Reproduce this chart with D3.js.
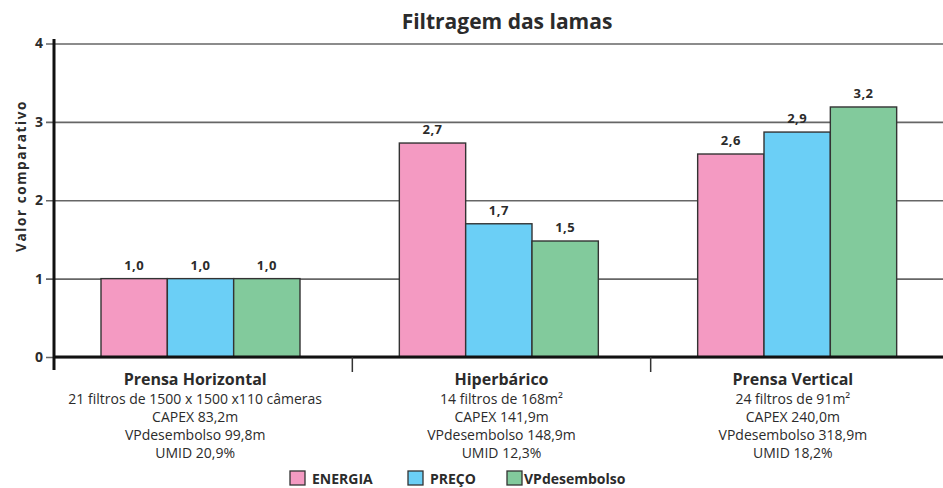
<!DOCTYPE html>
<head>
<meta charset="utf-8">
<title>Filtragem das lamas</title>
</head>
<style>
body { margin: 0; background: #fff; }
text { font-family: "Open Sans", Lato, sans-serif; fill: #2b2b2b; }
.grid line { stroke: #666; stroke-width: 1.6px; }
.bars rect { stroke: #333; stroke-width: 1.4px; }
</style>
<svg id="svg" width="943" height="488"></svg>
<script src="https://cdn.jsdelivr.net/npm/d3@7"></script>
<script>

// data
var categories = ["Prensa Horizontal", "Hiperbárico", "Prensa Vertical"];
var details = [
  ["21 filtros de 1500 x 1500 x110 câmeras", "CAPEX 83,2m", "VPdesembolso 99,8m", "UMID 20,9%"],
  ["14 filtros de 168m²", "CAPEX 141,9m", "VPdesembolso 148,9m", "UMID 12,3%"],
  ["24 filtros de 91m²", "CAPEX 240,0m", "VPdesembolso 318,9m", "UMID 18,2%"]
];
var series = ["ENERGIA", "PREÇO", "VPdesembolso"];
var energia = [1.0, 2.73, 2.59];
var preco = [1.0, 1.7, 2.87];
var vpdesembolso = [1.0, 1.48, 3.19];
var yTicks = [0, 1, 2, 3, 4];
var colors = ["#f49ac2", "#6bcff6", "#82ca9c"];

var values = [energia, preco, vpdesembolso];
var labelNudge = [-8, 0, -7];

var svg = d3.select("svg");

var x0 = d3.scaleBand().domain(categories).range([54, 949]);
var x1 = d3.scaleBand().domain(series).range([47, 246]);
var y = d3.scaleLinear().domain([0, 4]).range([357, 43.5]);
var color = d3.scaleOrdinal().domain(series).range(colors);
var fmt = function(v) { return d3.format(".1f")(v).replace(".", ","); };

// title
svg.append("text")
    .attr("x", 507).attr("y", 29)
    .attr("text-anchor", "middle")
    .style("font-size", "21px").style("font-weight", "bold")
    .text("Filtragem das lamas");

// y axis title
svg.append("text")
    .attr("transform", "translate(26,176) rotate(-90)")
    .attr("text-anchor", "middle")
    .style("font-size", "13.5px").style("font-weight", "bold")
    .style("letter-spacing", "1.6px")
    .text("Valor comparativo");

// gridlines + ticks
var yAxis = d3.axisLeft(y).tickValues(yTicks).tickSize(8).tickFormat(d3.format("d"));
var ga = svg.append("g").attr("class", "grid")
    .attr("transform", "translate(54,0)")
    .call(yAxis);
ga.select(".domain").remove();
ga.selectAll(".tick line").attr("x2", 943 - 54).attr("x1", -8);
ga.selectAll(".tick text")
    .attr("x", -11)
    .style("font-size", "14px").style("font-weight", "bold")
    .style("font-family", "'Open Sans', sans-serif").attr("fill", "#2b2b2b");

// bars
var rows = [];
categories.forEach(function(c, i) {
  series.forEach(function(s, j) {
    rows.push({cat: c, ser: s, v: values[j][i]});
  });
});

var bars = svg.append("g").attr("class", "bars");
bars.selectAll("rect")
  .data(rows)
  .enter().append("rect")
    .attr("x", function(d) { return x0(d.cat) + x1(d.ser); })
    .attr("y", function(d) { return y(d.v); })
    .attr("width", x1.bandwidth())
    .attr("height", function(d) { return y(0) - y(d.v); })
    .attr("fill", function(d) { return color(d.ser); });

svg.append("g").selectAll("text")
  .data(rows)
  .enter().append("text")
    .attr("x", function(d) { return x0(d.cat) + x1(d.ser) + x1.bandwidth() / 2; })
    .attr("y", function(d) { return y(d.v) - 9; })
    .attr("text-anchor", "middle")
    .style("font-size", "13px").style("font-weight", "bold")
    .style("letter-spacing", "0.5px")
    .text(function(d) { return fmt(d.v); });

// axes lines
svg.append("line")
    .attr("x1", 54).attr("x2", 943).attr("y1", y(0)).attr("y2", y(0))
    .attr("stroke", "#111").attr("stroke-width", 3);
svg.append("line")
    .attr("x1", 54).attr("x2", 54).attr("y1", 39).attr("y2", 370)
    .attr("stroke", "#111").attr("stroke-width", 3);

// separators between categories
svg.append("g").selectAll("line")
  .data(categories.slice(1))
  .enter().append("line")
    .attr("x1", function(d) { return x0(d); })
    .attr("x2", function(d) { return x0(d); })
    .attr("y1", y(0)).attr("y2", 372)
    .attr("stroke", "#333").attr("stroke-width", 1.5);

// category labels
var cl = svg.append("g").selectAll("g")
  .data(categories)
  .enter().append("g")
    .attr("transform", function(d, i) { return "translate(" + (x0(d) + x0.bandwidth() / 2 + labelNudge[i]) + ",0)"; });
cl.append("text")
    .attr("y", 385)
    .attr("text-anchor", "middle")
    .style("font-size", "16px").style("font-weight", "bold")
    .text(function(d) { return d; });
cl.each(function(d, i) {
  d3.select(this).selectAll(".det")
    .data(details[i])
    .enter().append("text")
      .attr("y", function(t, k) { return 404 + k * 18; })
      .attr("text-anchor", "middle")
      .style("font-size", "14px")
      .text(function(t) { return t; });
});

// legend
var legX = [290, 408, 507];
var leg = svg.append("g").selectAll("g")
  .data(series)
  .enter().append("g")
    .attr("transform", function(d, i) { return "translate(" + legX[i] + ",471)"; });
leg.append("rect")
    .attr("width", 15).attr("height", 14)
    .attr("fill", function(d) { return color(d); })
    .attr("stroke", "#333").attr("stroke-width", 1.3);
leg.append("text")
    .attr("x", function(d, i) { return i == 2 ? 17 : 22; })
    .attr("y", 13)
    .style("font-size", "14px").style("font-weight", "bold")
    .text(function(d) { return d; });

</script>
